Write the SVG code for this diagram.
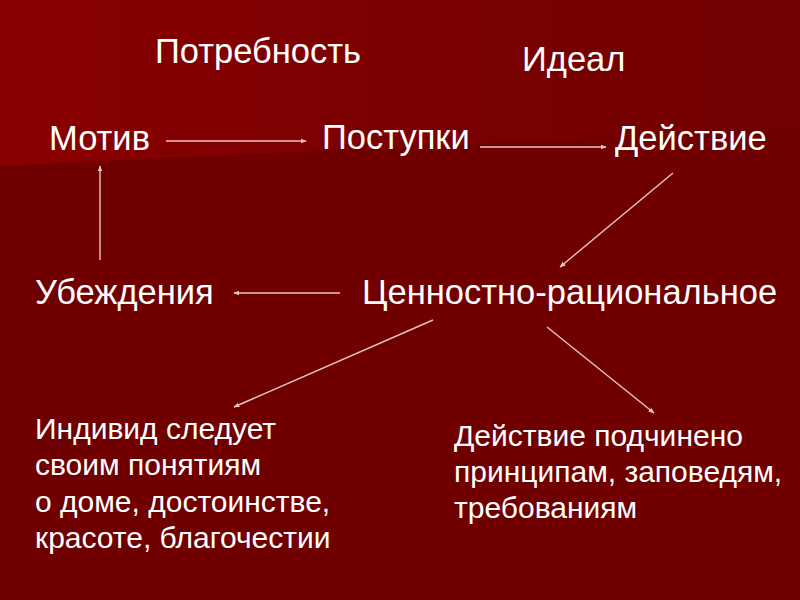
<svg xmlns="http://www.w3.org/2000/svg" width="800" height="600" viewBox="0 0 800 600">
<defs>
<linearGradient id="bgTop" x1="0" y1="0" x2="1" y2="0">
<stop offset="0" stop-color="#890000"/>
<stop offset="0.6" stop-color="#780000"/>
<stop offset="1" stop-color="#720000"/>
</linearGradient>
<marker id="ah" viewBox="0 0 10 10" refX="9" refY="5" markerWidth="6" markerHeight="6" orient="auto" markerUnits="userSpaceOnUse">
<path d="M0,1 L10,5 L0,9 Z" fill="#e8c4c4"/>
</marker>
<style>
text{font-family:"Liberation Sans",Arial,sans-serif;fill:#ffffff}
.big{font-size:34.5px}
.small{font-size:30px}
.conn line{stroke:#e8c4c4;stroke-width:1.4;marker-end:url(#ah)}
</style>
</defs>
<rect x="0" y="0" width="800" height="600" fill="#700000"/>
<polygon points="0,0 800,0 800,128 0,166" fill="url(#bgTop)"/>
<g id="potrebnost"><text class="big" x="155" y="63">Потребность</text></g>
<g id="ideal"><text class="big" x="522" y="71">Идеал</text></g>
<g id="motiv"><text class="big" x="49" y="150">Мотив</text></g>
<g id="postupki"><text class="big" x="322" y="149">Поступки</text></g>
<g id="deistvie"><text class="big" x="615" y="150">Действие</text></g>
<g id="ubezhdeniya"><text class="big" x="35" y="304">Убеждения</text></g>
<g id="cennostno"><text class="big" x="362" y="304">Ценностно-рациональное</text></g>
<g id="individ"><text class="small" x="35">
<tspan x="35" y="439">Индивид следует</tspan>
<tspan x="35" y="475">своим понятиям</tspan>
<tspan x="35" y="512">о доме, достоинстве,</tspan>
<tspan x="35" y="548">красоте, благочестии</tspan>
</text></g>
<g id="podchineno"><text class="small" x="454">
<tspan x="454" y="446">Действие подчинено</tspan>
<tspan x="454" y="482">принципам, заповедям,</tspan>
<tspan x="454" y="518">требованиям</tspan>
</text></g>
<g id="connectors" class="conn">
<line x1="166" y1="141" x2="306" y2="141"/>
<line x1="480" y1="147" x2="606" y2="147"/>
<line x1="673" y1="173" x2="560" y2="267"/>
<line x1="340" y1="293" x2="234" y2="293"/>
<line x1="100" y1="260" x2="100" y2="166"/>
<line x1="433" y1="320" x2="234" y2="407"/>
<line x1="547" y1="327" x2="654" y2="413"/>
</g>
</svg>
